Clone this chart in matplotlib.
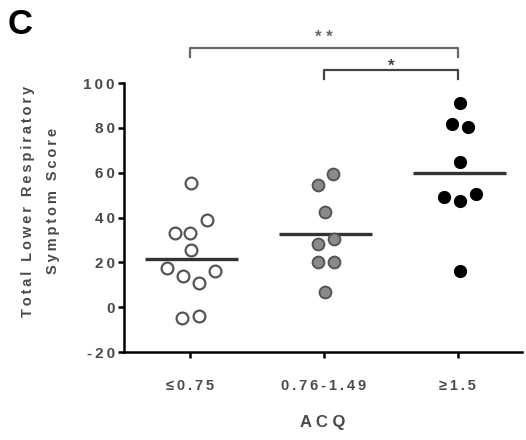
import matplotlib
matplotlib.use("Agg")
import matplotlib.pyplot as plt
import numpy as np

plt.rcParams['font.family'] = ['Liberation Sans', 'DejaVu Sans']

categories = ["≤0.75", "0.76-1.49", "≥1.5"]
g1 = [55.2, 39.1, 33.3, 33.3, 25.4, 17.3, 14.0, 10.8, 16.1, -5.0, -4.0]
g1_dx = [0.01, 0.13, -0.11, 0.0, 0.01, -0.17, -0.05, 0.07, 0.19, -0.06, 0.07]
g2 = [59.4, 54.5, 42.3, 28.1, 30.2, 20.0, 20.0, 6.8]
g2_dx = [0.07, -0.04, 0.01, -0.04, 0.08, -0.04, 0.08, 0.01]
g3 = [91.2, 81.6, 80.2, 64.6, 49.2, 47.3, 50.3, 16.1]
g3_dx = [0.02, -0.04, 0.08, 0.02, -0.10, 0.02, 0.14, 0.02]
yticks = [-20, 0, 20, 40, 60, 80, 100]
xlabel = "ACQ"
ylabel = "Total Lower Respiratory\nSymptom Score"

TS = "\u2009"
def spaced(s, sep=TS):
    return sep.join(list(s))

TXT = '#4a4a4a'

fig = plt.figure(figsize=(5.26, 4.40), dpi=100)
ax = fig.add_axes([124/526, 1-352/440, (522-124)/526, (352-83)/440])

groups = [g1, g2, g3]
dxs = [g1_dx, g2_dx, g3_dx]
styles = [
    dict(mfc='white', mec='#555555', mew=1.6),
    dict(mfc='#8a8a8a', mec='#555555', mew=1.4),
    dict(mfc='black', mec='black', mew=1.0),
]
for i, (vals, dx, st) in enumerate(zip(groups, dxs, styles)):
    x = i + np.array(dx)
    ax.plot(x, vals, 'o', ms=8.5, linestyle='none', clip_on=False, zorder=3, **st)
    m = np.mean(vals)
    ax.plot([i - 0.33, i + 0.36], [m, m], color='#333333', lw=2.4, zorder=2, solid_capstyle='butt')

ax.set_xlim(-0.49, 2.48)
ax.set_ylim(-20, 100)
ax.set_yticks(yticks)
ax.set_yticklabels([spaced(str(t)) for t in yticks], fontsize=11, color=TXT, fontweight='bold')
ax.set_xticks(range(len(categories)))
ax.set_xticklabels([spaced(c) for c in categories], fontsize=10.5, color=TXT, fontweight='bold')
for s in ['top', 'right']:
    ax.spines[s].set_visible(False)
for s in ['left', 'bottom']:
    ax.spines[s].set_linewidth(1.8)
ax.tick_params(axis='both', length=4.5, width=1.8, direction='out')
ax.tick_params(axis='x', pad=15)
ax.tick_params(axis='y', pad=2)

ax.set_xlabel(spaced(xlabel, " "), fontsize=12, color=TXT, fontweight='bold', labelpad=16)
ax.set_ylabel("\n".join(spaced(l) for l in ylabel.split("\n")), fontsize=10.5, color=TXT,
              fontweight='bold', linespacing=2.0)
ax.yaxis.set_label_coords(-0.16, 0.56)

# significance brackets
def bracket(x0, x1, y, h, text, color, ty):
    ax.plot([x0, x0, x1, x1], [y - h, y, y, y - h], color=color, lw=1.6, clip_on=False)
    ax.text((x0 + x1) / 2, ty, text, ha='center', va='center', fontsize=12,
            fontweight='bold', color=color)

bracket(0, 2, 115.6, 4, spaced("**", " "), '#666666', 120.5)
bracket(1, 2, 105.8, 4, "*", '#444444', 107.6)

fig.text(8/526, 1-24/440, "C", fontsize=25, fontweight='bold', va='center', ha='left')

fig.savefig("out.png", dpi=100)
